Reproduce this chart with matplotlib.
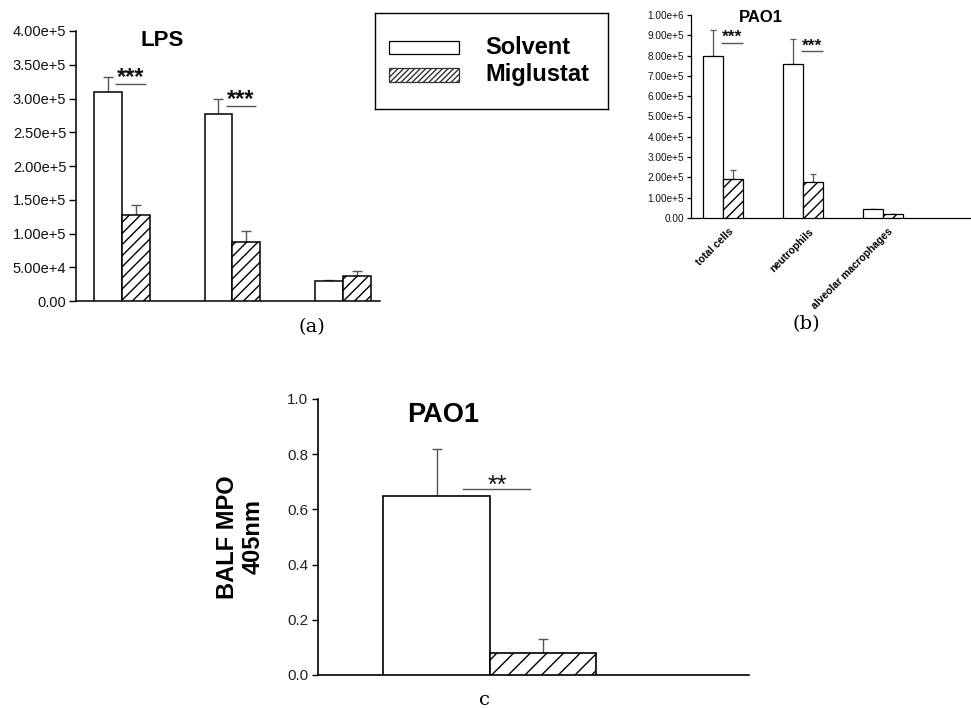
import numpy as np
import matplotlib
matplotlib.use("Agg")
import matplotlib.pyplot as plt
from matplotlib.patches import Rectangle
import matplotlib.transforms as mtransforms

plt.rcParams['font.family'] = ['Liberation Sans', 'DejaVu Sans']
plt.rcParams['hatch.linewidth'] = 1.0

W, H = 971, 708

# ---------------- data ----------------
groups = ["total cells", "neutrophils", "alveolar macrophages"]

lps_solvent = [3.10e5, 2.77e5, 0.30e5]
lps_solvent_err = [0.22e5, 0.23e5, 0.01e5]
lps_miglustat = [1.28e5, 0.88e5, 0.37e5]
lps_miglustat_err = [0.14e5, 0.16e5, 0.07e5]
lps_sig = ["***", "***", ""]
lps_yticks = [0, 5e4, 1e5, 1.5e5, 2e5, 2.5e5, 3e5, 3.5e5, 4e5]
lps_yticklabels = ["0.00", "5.00e+4", "1.00e+5", "1.50e+5", "2.00e+5",
                   "2.50e+5", "3.00e+5", "3.50e+5", "4.00e+5"]

pao_solvent = [8.00e5, 7.60e5, 0.43e5]
pao_solvent_err = [1.28e5, 1.23e5, 0.003e5]
pao_miglustat = [1.92e5, 1.75e5, 0.20e5]
pao_miglustat_err = [0.45e5, 0.40e5, 0.003e5]
pao_sig = ["***", "***", ""]
pao_yticks = [0, 1e5, 2e5, 3e5, 4e5, 5e5, 6e5, 7e5, 8e5, 9e5, 1e6]
pao_yticklabels = ["0.00", "1.00e+5", "2.00e+5", "3.00e+5", "4.00e+5", "5.00e+5",
                   "6.00e+5", "7.00e+5", "8.00e+5", "9.00e+5", "1.00e+6"]

mpo_solvent = [0.65]
mpo_solvent_err = [0.17]
mpo_miglustat = [0.08]
mpo_miglustat_err = [0.05]
mpo_sig = ["**"]
mpo_yticks = [0.0, 0.2, 0.4, 0.6, 0.8, 1.0]
mpo_yticklabels = ["0.0", "0.2", "0.4", "0.6", "0.8", "1.0"]

series_names = ["Solvent", "Miglustat"]

# ---------------- figure ----------------
fig = plt.figure(figsize=(W / 100, H / 100), dpi=100)
fig.patch.set_facecolor("white")


def px_axes(l, r, t, b):
    return fig.add_axes([l / W, 1 - b / H, (r - l) / W, (b - t) / H])


def draw_group_bars(ax, solv, solv_err, mig, mig_err, w, hatch, lw, capsize, elw):
    x = np.arange(len(solv))
    ax.bar(x - w / 2, solv, width=w, color="white", edgecolor="black",
           linewidth=lw, zorder=3)
    ax.bar(x + w / 2, mig, width=w, color="white", edgecolor="black",
           hatch=hatch, linewidth=lw, zorder=3)
    z = np.zeros(len(solv))
    ax.errorbar(x - w / 2, solv, yerr=[z, solv_err], fmt="none", ecolor="#555555",
                elinewidth=elw, capsize=capsize, capthick=elw, zorder=2)
    ax.errorbar(x + w / 2, mig, yerr=[z, mig_err], fmt="none", ecolor="#555555",
                elinewidth=elw, capsize=capsize, capthick=elw, zorder=2)
    return x


def style_axes(ax, lw):
    for s in ["top", "right"]:
        ax.spines[s].set_visible(False)
    for s in ["left", "bottom"]:
        ax.spines[s].set_linewidth(lw)
    ax.set_facecolor("none")


def sig_marks(ax, x, solv, solv_err, sig, x0, x1, frac, fs, star_dy, weight="bold"):
    for xi, v, e, s in zip(x, solv, solv_err, sig):
        if not s:
            continue
        yl = v + frac * e
        ax.plot([xi + x0, xi + x1], [yl, yl], color="#555555", lw=1.0, zorder=4,
                solid_capstyle="butt")
        ax.annotate(s, xy=((xi + x0 + xi + x1) / 2, yl), xytext=(0, star_dy),
                    textcoords="offset points", ha="center", va="baseline",
                    fontsize=fs, fontweight=weight, color="#111111")


# ---------- panel (a) LPS ----------
ax_a = px_axes(76, 380, 31, 301)
wa = 0.253
xa = draw_group_bars(ax_a, lps_solvent, lps_solvent_err, lps_miglustat,
                     lps_miglustat_err, wa, "///", 1.1, 3.3, 1.0)
ax_a.set_xlim(-0.416, 2.335)
ax_a.set_ylim(0, 4e5)
ax_a.set_yticks(lps_yticks)
ax_a.set_yticklabels(lps_yticklabels)
ax_a.set_xticks([])
ax_a.tick_params(axis="y", direction="out", length=5, width=1, labelsize=10.5, pad=2,
                 labelcolor="#111111")
style_axes(ax_a, 1.1)
sig_marks(ax_a, xa, lps_solvent, lps_solvent_err, lps_sig, -0.063, 0.217, 0.5, 17, 0)
fig.text(162 / W, 1 - 41 / H, "LPS", ha="center", va="center", fontsize=16,
         fontweight="bold")

# ---------- legend ----------
ax_l = px_axes(375, 608, 13, 109)
ax_l.set_xlim(375, 608)
ax_l.set_ylim(109, 13)
ax_l.set_xticks([])
ax_l.set_yticks([])
for s in ax_l.spines.values():
    s.set_linewidth(1.0)
ax_l.add_patch(Rectangle((389, 41), 70, 13, facecolor="white", edgecolor="black",
                         linewidth=0.9))
ax_l.add_patch(Rectangle((389, 68), 70, 14, facecolor="white", edgecolor="#333333",
                         linewidth=0.9, hatch="//////"))
ax_l.text(485, 47, series_names[0], ha="left", va="center", fontsize=17,
          fontweight="bold")
ax_l.text(485, 75, series_names[1], ha="left", va="center", fontsize=17,
          fontweight="bold")

# ---------- panel (b) PAO1 cells ----------
ax_b = px_axes(691, 971, 15, 218)
wb = 0.25
xb = draw_group_bars(ax_b, pao_solvent, pao_solvent_err, pao_miglustat,
                     pao_miglustat_err, wb, "///", 0.9, 2.2, 0.9)
ax_b.set_xlim(-0.4, 3.1)
ax_b.set_ylim(0, 1e6)
ax_b.set_yticks(pao_yticks)
ax_b.set_yticklabels(pao_yticklabels)
ax_b.set_xticks(xb)
ax_b.set_xticklabels(groups, rotation=45, ha="right", va="top",
                     rotation_mode="anchor", fontsize=7.5, fontweight="bold")
ax_b.tick_params(axis="x", length=0, pad=6)
ax_b.tick_params(axis="y", direction="out", length=3, width=0.9, labelsize=7.2, pad=2,
                 labelcolor="#111111")
offset = mtransforms.ScaledTranslation(5 / 100, 0, fig.dpi_scale_trans)
for lab in ax_b.get_xticklabels():
    lab.set_transform(lab.get_transform() + offset)
style_axes(ax_b, 0.9)
sig_marks(ax_b, xb, pao_solvent, pao_solvent_err, pao_sig, -0.025, 0.25, 0.5, 12.5, 0.5)
fig.text(761 / W, 1 - 17 / H, "PAO1", ha="center", va="center", fontsize=12,
         fontweight="bold")

# ---------- panel (c) MPO ----------
ax_c = px_axes(318, 749, 399, 675)
wc = 1.0
xc = draw_group_bars(ax_c, mpo_solvent, mpo_solvent_err, mpo_miglustat,
                     mpo_miglustat_err, wc, "//", 1.2, 3.6, 1.0)
ax_c.set_xlim(-1.615, 2.432)
ax_c.set_ylim(0, 1.0)
ax_c.set_yticks(mpo_yticks)
ax_c.set_yticklabels(mpo_yticklabels)
ax_c.set_xticks([])
ax_c.tick_params(axis="y", direction="out", length=4, width=1, labelsize=11, pad=3,
                 labelcolor="#222222")
style_axes(ax_c, 1.2)
for xi, v, e, s in zip(xc, mpo_solvent, mpo_solvent_err, mpo_sig):
    yl = v + 0.14 * e
    ax_c.plot([xi - 0.25, xi + 0.376], [yl, yl], color="#555555", lw=1.0, zorder=4)
    ax_c.annotate(s, xy=(xi + 0.066, yl), xytext=(0, -3), textcoords="offset points",
                  ha="center", va="baseline", fontsize=18, color="#111111")
fig.text(443 / W, 1 - 415 / H, "PAO1", ha="center", va="center", fontsize=19.5,
         fontweight="bold")
fig.text(240 / W, 1 - 537 / H, "BALF MPO\n405nm", ha="center", va="center",
         rotation=90, fontsize=17, fontweight="bold", linespacing=1.15)

# ---------- panel labels ----------
fig.text(312 / W, 1 - 327 / H, "(a)", ha="center", va="center", fontsize=14,
         family="DejaVu Serif")
fig.text(806 / W, 1 - 324 / H, "(b)", ha="center", va="center", fontsize=14,
         family="DejaVu Serif")
fig.text(484 / W, 1 - 700 / H, "c", ha="center", va="center", fontsize=14,
         family="DejaVu Serif")

fig.savefig("out.png", dpi=100, facecolor="white")
